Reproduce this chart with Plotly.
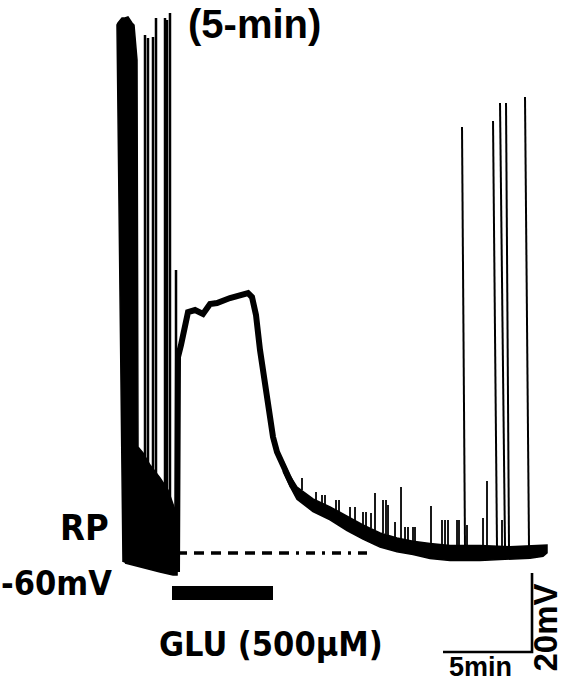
import plotly.graph_objects as go

W, H = 565, 684

# ---------------- data (minutes, mV) ----------------
# Early burst: envelope of dense firing (polygon outline)
burst_env_t = [0.000, -0.169, -0.337, -0.281, -0.056, 0.112, 0.281, 0.506, 0.618, 0.787,
               0.843, 1.124, 1.517, 2.079, 2.528, 2.921, 3.034, 3.034, 2.809, 2.079, 0.955, 0.112]
burst_env_v = [-62.28, 4.05, 73.67, 74.18, 75.44, 75.44, 75.70, 74.18, 73.67, 64.81,
               -33.16, -34.68, -37.72, -41.01, -44.05, -49.11, -56.71, -65.57, -65.57, -64.81, -63.54, -62.53]

# Tall individual spikes in the burst
burst_spk_t = [1.236, 1.404, 1.685, 1.854, 2.360, 2.472, 2.640, 2.978]
burst_spk_base = [-63.29, -63.54, -63.80, -64.05, -64.56, -64.60, -65.06, -65.57]
burst_spk_peak = [71.14, 70.38, 70.63, 75.44, 75.44, 74.94, 76.71, 11.65]

# Glutamate response: depolarisation, plateau, repolarisation
resp_t = [3.034, 3.090, 3.258, 3.483, 3.652, 4.045, 4.494, 4.888, 5.281, 6.011, 6.685, 7.022,
          7.247, 7.472, 7.697, 7.865, 8.090, 8.258, 8.427, 8.652, 8.933, 9.270, 9.551]
resp_v = [-64.81, -10.38, -7.34, -1.77, 1.01, 1.52, 0.51, 3.04, 3.29, 4.56, 5.57, 5.82,
          4.81, 0.25, -8.61, -13.67, -19.49, -25.06, -30.63, -34.43, -37.22, -40.76, -43.29]

# Recovery phase: noisy band (upper / lower envelope)
tail_t = [8.989, 9.382, 9.775, 10.674, 11.629, 12.584, 13.483, 14.438, 15.393, 16.292,
          17.247, 18.371, 20.056, 21.742, 22.865, 23.596, 23.820]
tail_hi = [-36.70, -40.50, -43.30, -46.30, -48.30, -50.60, -52.90, -54.90, -56.20, -57.00,
           -57.60, -58.10, -58.10, -58.40, -58.20, -58.20, -57.97]
tail_lo = [-39.30, -43.10, -46.40, -49.50, -51.60, -54.30, -56.50, -58.50, -59.70, -60.40,
           -61.40, -61.90, -61.90, -61.60, -61.30, -60.80, -60.00]

# Small spikes during recovery
small_spk_t = [10.056, 10.843, 11.180, 11.348, 11.966, 12.135, 12.753, 13.034, 13.483, 13.652,
               13.933, 14.157, 14.607, 14.775, 14.888, 15.281, 15.618, 15.843, 16.011, 16.292,
               16.404, 17.303, 17.921, 18.090, 18.258, 18.764, 18.876, 19.326, 20.225, 20.449, 21.292]
small_spk_base = [-44.05, -46.58, -47.85, -48.10, -49.62, -49.62, -51.65, -52.15, -52.91, -53.16,
                  -53.67, -54.18, -54.94, -55.19, -55.44, -56.20, -56.71, -56.96, -57.22, -57.47,
                  -57.47, -58.23, -58.48, -58.48, -58.48, -58.48, -58.48, -58.48, -58.48, -58.48, -58.48]
small_spk_peak = [-41.01, -44.56, -45.32, -45.32, -46.58, -46.58, -48.35, -48.35, -49.62, -49.62,
                  -49.87, -44.81, -46.58, -46.58, -47.85, -52.15, -43.29, -53.42, -53.42, -53.42,
                  -53.42, -48.10, -51.65, -51.65, -51.65, -51.65, -51.65, -52.91, -51.14, -41.77, -51.65]

# Late action potentials (slightly slanted on the recording)
late_spk_t_peak = [19.045, 20.787, 21.180, 21.517, 22.584]
late_spk_t_base = [19.213, 21.011, 21.461, 21.685, 22.809]
late_spk_peak = [47.85, 49.37, 53.92, 53.92, 55.44]
late_spk_base = -58.48

# Resting potential reference line
rp_level = -60.0
rp_t = [3.034, 8.82, 13.708]

# Glutamate application bar
glu_t = [2.753, 8.427]
glu_v = [-68.35, -71.90]

# Scale bar: 5 min, 20 mV
sb_t0, sb_len_t = 17.978, 5.0
sb_v0, sb_len_v = -85.06, 20.0

# ---------------- figure ----------------
fig = go.Figure()

fig.add_trace(go.Scatter(x=burst_env_t, y=burst_env_v, mode="lines", fill="toself",
                         fillcolor="black", line=dict(color="black", width=1.5),
                         hoverinfo="skip", showlegend=False))

def spikes(ts, bases, peaks):
    xs, ys = [], []
    for t, b, p in zip(ts, bases, peaks):
        xs += [t, t, None]
        ys += [b, p, None]
    return xs, ys

bx, by = spikes(burst_spk_t, burst_spk_base, burst_spk_peak)
fig.add_trace(go.Scatter(x=bx, y=by, mode="lines", line=dict(color="black", width=2.5),
                         hoverinfo="skip", showlegend=False))

fig.add_trace(go.Scatter(x=resp_t, y=resp_v, mode="lines", line=dict(color="black", width=6),
                         hoverinfo="skip", showlegend=False))

fig.add_trace(go.Scatter(x=tail_t + tail_t[::-1], y=tail_hi + tail_lo[::-1], mode="lines",
                         fill="toself", fillcolor="black", line=dict(color="black", width=1.5),
                         hoverinfo="skip", showlegend=False))

sx, sy = spikes(small_spk_t, small_spk_base, small_spk_peak)
fig.add_trace(go.Scatter(x=sx, y=sy, mode="lines", line=dict(color="black", width=1.8),
                         hoverinfo="skip", showlegend=False))

lx, ly = [], []
for tp, tb, p in zip(late_spk_t_peak, late_spk_t_base, late_spk_peak):
    lx += [tb, tp, None]
    ly += [late_spk_base, p, None]
fig.add_trace(go.Scatter(x=lx, y=ly, mode="lines", line=dict(color="black", width=2),
                         hoverinfo="skip", showlegend=False))

fig.add_trace(go.Scatter(x=rp_t[:2], y=[rp_level, rp_level], mode="lines",
                         line=dict(color="black", width=3.5, dash="10px,7px"),
                         hoverinfo="skip", showlegend=False))
fig.add_trace(go.Scatter(x=rp_t[1:], y=[rp_level, rp_level], mode="lines",
                         line=dict(color="black", width=3.5, dash="9px,7px,3px,7px"),
                         hoverinfo="skip", showlegend=False))

fig.add_shape(type="rect", xref="x", yref="y", x0=glu_t[0], x1=glu_t[1], y0=glu_v[1], y1=glu_v[0],
              fillcolor="black", line=dict(width=0))

fig.add_trace(go.Scatter(x=[sb_t0, sb_t0 + sb_len_t, sb_t0 + sb_len_t],
                         y=[sb_v0, sb_v0, sb_v0 + sb_len_v], mode="lines",
                         line=dict(color="black", width=2.6),
                         hoverinfo="skip", showlegend=False))

narrow = "DejaVu Sans Condensed, Liberation Sans Narrow, Arial Narrow, sans-serif"
wide = "Liberation Sans, Arial, Helvetica, sans-serif"

def ann(text, px, py, size, family, xanchor="center", yanchor="middle", angle=0):
    fig.add_annotation(text=f"<b>{text}</b>", xref="paper", yref="paper",
                       x=px / W, y=1 - py / H, xanchor=xanchor, yanchor=yanchor,
                       showarrow=False, textangle=angle,
                       font=dict(size=size, family=family, color="black"))

ann("(5-min)", 254, 0, 40, wide, yanchor="top")
ann("RP", 111, 527, 36, narrow, xanchor="right")
ann("-60mV", 114, 583, 34, narrow, xanchor="right")
ann("GLU (500μM)", 271, 644, 34, narrow)
ann("5min", 481, 684, 27, wide, yanchor="bottom")
ann("20mV", 565, 628, 33, wide, xanchor="right", angle=-90)

fig.update_layout(width=W, height=H, margin=dict(l=0, r=0, t=0, b=0),
                  paper_bgcolor="white", plot_bgcolor="white",
                  xaxis=dict(visible=False, range=[-6.910, 24.831], fixedrange=True),
                  yaxis=dict(visible=False, range=[-93.16, 80.0], fixedrange=True),
                  showlegend=False)

fig.write_html("out.html", config={"displayModeBar": False},
               post_script="document.body.style.margin='0';")
